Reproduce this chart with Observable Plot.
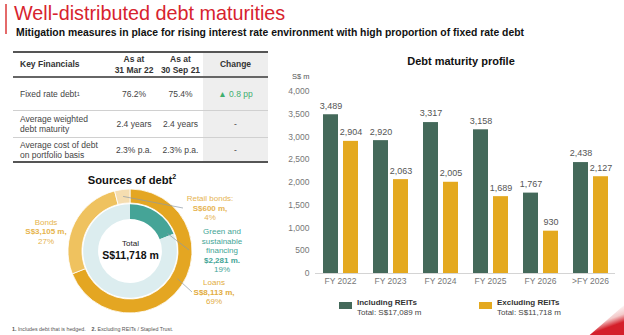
<!DOCTYPE html>
<html><head><meta charset="utf-8">
<script src="https://cdn.jsdelivr.net/npm/d3@7"></script>
<script src="https://cdn.jsdelivr.net/npm/@observablehq/plot@0.6"></script>
<style>
html,body{margin:0;padding:0;background:#fff;}
#slide{position:relative;width:624px;height:335px;overflow:hidden;font-family:"Liberation Sans",Arial,sans-serif;background:#fff;color:#333;}
.abs{position:absolute;white-space:nowrap;}
.c{transform:translateX(-50%);text-align:center;}
</style></head><body><div id="slide"></div>
<script>
// ---------- data ----------
const titleText = "Well-distributed debt maturities";
const subtitleText = "Mitigation measures in place for rising interest rate environment with high proportion of fixed rate debt";

const tableHeader = ["Key Financials", "As at<br>31 Mar 22", "As at<br>30 Sep 21", "Change"];
const rowLabels = ["Fixed rate debt<sup>1</sup>", "Average weighted<br>debt maturity", "Average cost of debt<br>on portfolio basis"];
const mar22 = ["76.2%", "2.4 years", "2.3% p.a."];
const sep21 = ["75.4%", "2.4 years", "2.3% p.a."];
const changes = ["\u25B2 0.8 pp", "-", "-"];

const donutTitle = "Sources of debt<sup>2</sup>";
const sourceNames = ["Loans", "Bonds", "Retail bonds"];
const sourceAmounts = ["S$8,113 m,", "S$3,105 m,", "S$600 m,"];
const sourcePct = [69, 27, 4];
const greenName = "Green and<br>sustainable<br>financing";
const greenAmount = "$2,281 m.";
const greenPct = 19;
const totalLabel = "Total";
const totalValue = "S$11,718 m";

const chartTitle = "Debt maturity profile";
const unitLabel = "S$ m";
const years = ["FY 2022", "FY 2023", "FY 2024", "FY 2025", "FY 2026", ">FY 2026"];
const inclREITs = [3489, 2920, 3317, 3158, 1767, 2438];
const exclREITs = [2904, 2063, 2005, 1689, 930, 2127];
const seriesNames = ["Including REITs", "Excluding REITs"];
const seriesTotals = ["Total: S$17,089 m", "Total: S$11,718 m"];
const yTicks = [0, 500, 1000, 1500, 2000, 2500, 3000, 3500, 4000];
const footnote = "<b>1.</b> Includes debt that is hedged.&nbsp;&nbsp;&nbsp;&nbsp;<b>2.</b> Excluding REITs / Stapled Trust.";

// ---------- styles ----------
const barColors = ["#44695a", "#e4a91f"];
const ringColors = ["#e4a622", "#efc25f", "#f5ddb0"];
const innerColors = ["#45a497", "#dcedef"];

const slide = document.getElementById("slide");
function put(html, css, cls) {
  const d = document.createElement("div");
  d.className = "abs" + (cls ? " " + cls : "");
  d.innerHTML = html;
  for (const k in css) d.style[k] = typeof css[k] === "number" ? css[k] + "px" : css[k];
  slide.appendChild(d);
  return d;
}

// ---------- heading ----------
put("", {left: 5, top: 4, width: 1.5, height: 30, background: "#e46a6a"});
put(titleText, {left: 14, top: 3, fontSize: 19.8, lineHeight: "20px", color: "#d7232e"});
put(subtitleText, {left: 16, top: 28, fontSize: 10.4, lineHeight: "10px", fontWeight: "bold", color: "#111"});

// ---------- table ----------
const colX = [13, 110, 158, 203, 268];
const rowY = [52, 77, 110, 137, 162];
put("", {left: colX[3], top: rowY[0], width: colX[4] - colX[3], height: rowY[4] - rowY[0], background: "#eeeeee"});
put("", {left: colX[0], top: rowY[0] - 1, width: colX[4] - colX[0], height: 2, background: "#555"});
put("", {left: colX[0], top: rowY[1] - 1, width: colX[4] - colX[0], height: 2, background: "#666"});
put("", {left: colX[0], top: rowY[2], width: colX[4] - colX[0], height: 1, background: "#d0d0d0"});
put("", {left: colX[0], top: rowY[3], width: colX[4] - colX[0], height: 1, background: "#d0d0d0"});
put("", {left: colX[0], top: rowY[4] - 1, width: colX[4] - colX[0], height: 2, background: "#555"});
function cell(r, c, html, extra) {
  const d = put(html, Object.assign({
    left: c === 0 ? colX[0] + 7 : colX[c], top: rowY[r], height: rowY[r + 1] - rowY[r],
    width: c === 0 ? colX[1] - colX[0] - 7 : colX[c + 1] - colX[c],
    display: "flex", alignItems: "center", justifyContent: c === 0 ? "flex-start" : "center",
    textAlign: c === 0 ? "left" : "center", fontSize: 8.5, lineHeight: "10px", color: "#444"
  }, extra || {}));
  return d;
}
tableHeader.forEach((h, i) => cell(0, i, h, {fontWeight: "bold", color: "#333", lineHeight: "11px", fontSize: 8.5}));
rowLabels.forEach((t, i) => {
  cell(i + 1, 0, t);
  cell(i + 1, 1, mar22[i]);
  cell(i + 1, 2, sep21[i]);
  cell(i + 1, 3, changes[i], {color: i === 0 ? "#3fae6e" : "#444"});
});
slide.querySelectorAll("sup").forEach(s => { s.style.fontSize = "5.5px"; s.style.verticalAlign = "top"; s.style.lineHeight = "6px"; });

// ---------- donut ----------
const dt = put(donutTitle, {left: 132, top: 171, fontSize: 11.2, lineHeight: "12px", fontWeight: "bold", color: "#111"}, "c");
dt.querySelector("sup").style.fontSize = "7px";
const rOuter = 1, rOuterIn = 0.775, rInnerOut = 0.755, rInnerIn = 0.515;
const sources = sourceNames.map((n, i) => ({name: n, pct: sourcePct[i], color: ringColors[i]}));
const inner = [{pct: greenPct, color: innerColors[0]}, {pct: 100 - greenPct, color: innerColors[1]}];
function donutMark(index, scales, values, dims) {
  const cx = (dims.marginLeft + dims.width - dims.marginRight) / 2;
  const cy = (dims.marginTop + dims.height - dims.marginBottom) / 2;
  const R = (dims.width - dims.marginLeft - dims.marginRight) / 2;
  const g = d3.create("svg:g").attr("transform", `translate(${cx},${cy})`);
  const pie = d3.pie().sort(null).value(d => d.pct);
  const arcO = d3.arc().innerRadius(R * rOuterIn).outerRadius(R * rOuter);
  const arcI = d3.arc().innerRadius(R * rInnerIn).outerRadius(R * rInnerOut);
  const po = pie(sources), pi = pie(inner);
  g.selectAll("path.o").data(po).join("path").attr("d", arcO).attr("fill", d => d.data.color).attr("stroke", "#fff").attr("stroke-width", 0.8);
  g.selectAll("path.i").data(pi).join("path").attr("d", arcI).attr("fill", d => d.data.color);
  const midO = R * (rOuter + rOuterIn) / 2, midI = R * (rInnerOut + rInnerIn) / 2;
  const pt = (a, r) => [r * Math.sin(a), -r * Math.cos(a)];
  const leaders = [
    [arcO.centroid(po[2]), [53, -43]],
    [pt(pi[0].endAngle - 0.06, midI + 2), [59, -1]],
    [pt(2.1, midO), [62, 41]]
  ];
  g.selectAll("line").data(leaders).join("line")
    .attr("x1", d => d[0][0]).attr("y1", d => d[0][1]).attr("x2", d => d[1][0]).attr("y2", d => d[1][1])
    .attr("stroke", "#8d9aa6").attr("stroke-width", 0.7);
  return g.node();
}
const donut = Plot.plot({
  width: 130, height: 130, margin: 3,
  style: {overflow: "visible", background: "transparent", fontFamily: "Liberation Sans, Arial, sans-serif"},
  marks: [
    donutMark,
    Plot.text([totalLabel], {text: d => d, frameAnchor: "middle", dy: -8, fontSize: 8, fill: "#222"}),
    Plot.text([totalValue], {text: d => d, frameAnchor: "middle", dy: 4.5, fontSize: 10.5, fontWeight: "bold", fill: "#111"})
  ]
});
donut.style.position = "absolute"; donut.style.left = "65px"; donut.style.top = "186px";
slide.appendChild(donut);

const lblGold = "#e2ac40";
put(`${sourceNames[2]}:<br><b>${sourceAmounts[2]}</b><br>${sourcePct[2]}%`, {left: 210, top: 194, fontSize: 8, lineHeight: "9.5px", color: "#e6b452"}, "c");
put(`${greenName}<br><b>${greenAmount}</b><br>${greenPct}%`, {left: 222, top: 227, fontSize: 8, lineHeight: "9.5px", color: "#43a596"}, "c");
put(`${sourceNames[0]}<br><b>${sourceAmounts[0]}</b><br>${sourcePct[0]}%`, {left: 214, top: 278, fontSize: 8, lineHeight: "9.5px", color: lblGold}, "c");
put(`${sourceNames[1]}<br><b>${sourceAmounts[1]}</b><br>${sourcePct[1]}%`, {left: 46, top: 218, fontSize: 8, lineHeight: "9.3px", color: "#e6b44c"}, "c");
put(footnote, {left: 12, top: 326, fontSize: 5.3, lineHeight: "6px", color: "#555"});

// ---------- bar chart ----------
put(chartTitle, {left: 461, top: 55, fontSize: 11, lineHeight: "12px", fontWeight: "bold", color: "#111"}, "c");
put(unitLabel, {left: 292, top: 73, fontSize: 7.5, lineHeight: "8px", color: "#555"});
const data = years.flatMap((y, i) => [
  {year: y, series: seriesNames[0], value: inclREITs[i]},
  {year: y, series: seriesNames[1], value: exclREITs[i]}
]);
const bars = Plot.plot({
  width: 354, height: 225,
  marginLeft: 45, marginRight: 9, marginTop: 25, marginBottom: 18,
  style: {fontFamily: "Liberation Sans, Arial, sans-serif", fontSize: "8.5px", color: "#777", background: "transparent", overflow: "visible"},
  fx: {domain: years, padding: 0, label: null, axis: "bottom", tickSize: 0, tickPadding: 4},
  x: {domain: seriesNames, paddingInner: 0.25, paddingOuter: 0.375, axis: null},
  y: {domain: [0, 4000], ticks: yTicks, tickFormat: d3.format(","), tickSize: 0, tickPadding: 6, label: null},
  color: {domain: seriesNames, range: barColors},
  marks: [
    Plot.barY(data, {fx: "year", x: "series", y: "value", fill: "series"}),
    Plot.text(data, {fx: "year", x: "series", y: "value", text: d => d3.format(",")(d.value), dy: -9, fill: "#555", fontSize: 9}),
    Plot.ruleY([0], {stroke: "#d4d4d4"})
  ]
});
bars.style.position = "absolute"; bars.style.left = "270px"; bars.style.top = "66px";
slide.appendChild(bars);

// legend
const legX = [339, 479];
seriesNames.forEach((s, i) => {
  put("", {left: legX[i], top: 302, width: 13, height: 7, background: barColors[i]});
  put(`<b style="color:#333">${s}</b><br>${seriesTotals[i]}`, {left: legX[i] + 18, top: 298, fontSize: 8, lineHeight: "10px", color: "#444"});
});

// decorative corner swoosh
put("", {left: 575, top: 300, width: 49, height: 35, background: "linear-gradient(160deg, rgba(255,255,255,0) 40%, #f3c9c9 60%, #d41f2a 75%)", clipPath: "polygon(30% 100%, 100% 15%, 100% 100%)"});
</script>
</body></html>
